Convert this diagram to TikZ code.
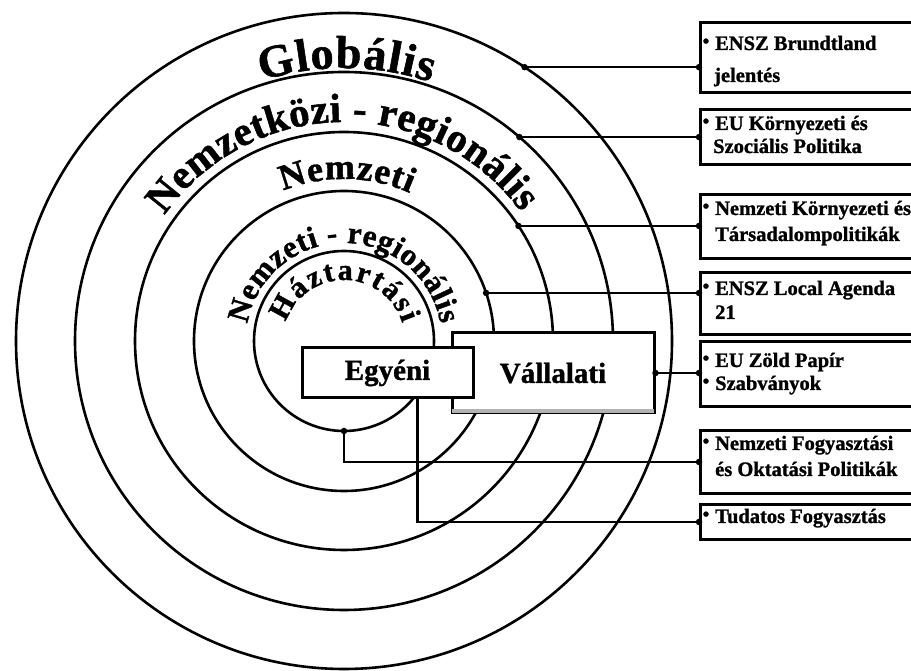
\documentclass[tikz,border=0pt]{standalone}
\usepackage{fontspec}
\setmainfont{Liberation Serif}[BoldFeatures={FakeBold=1.2}]
\usetikzlibrary{decorations.text,calc}
\newcommand\fsz[1]{\fontsize{#1}{#1}\selectfont\bfseries}
\begin{document}
\begin{tikzpicture}[x=1pt,y=1pt,
  ring/.style={line width=2.6pt},
  conn/.style={line width=2.5pt},
  rbox/.style={draw, line width=3pt, fill=white, minimum width=250pt, anchor=north west, inner sep=0pt},
  btxt/.style={anchor=base west, inner sep=0pt, font=\fsz{20.5}},
  bul/.style={inner sep=0pt, font=\fsz{19}},
  dot/.style={circle, fill=black, inner sep=0pt, minimum size=6.5pt},
  ctr/.style={draw, line width=3pt, fill=white, inner sep=0pt, font=\fsz{29}}
]
\clip (0,0) rectangle (911,671);
\fill[white] (0,0) rectangle (911,671);
\coordinate (c) at (344,330);
% rings
\foreach \r in {328,269,209,150,90} \draw[ring] (c) circle[radius=\r pt];

% ring labels
\path[decorate, decoration={text along path, text={|\fsz{46}|Globális}, text align={fit to path}}]
  ($(c)+(107.5:273pt)$) arc[start angle=107.5, end angle=71.5, radius=273pt];
\path[decorate, decoration={text along path, text={|\fsz{41}|Nemzetközi - regionális}, text align={fit to path}}]
  ($(c)+(145:219pt)$) arc[start angle=145, end angle=36, radius=219pt];
\path[decorate, decoration={text along path, text={|\fsz{36}|Nemzeti}, text align={fit to path}}]
  ($(c)+(112:162pt)$) arc[start angle=112, end angle=66, radius=162pt];
\path[decorate, decoration={text along path, text={|\fsz{31}|Nemzeti - regionális}, text align={fit to path}}]
  ($(c)+(170:98pt)$) arc[start angle=170, end angle=10, radius=98pt];
\path[decorate, decoration={text along path, text={|\fsz{30}|Háztartási}, text align={fit to path}}]
  ($(c)+(162:61pt)$) arc[start angle=162, end angle=17, radius=61pt];

% central boxes
\node[ctr, minimum width=202pt, minimum height=80pt] (v) at (553,298) {\raisebox{-3pt}{Vállalati}};
\draw[gray!60, line width=4pt] ([xshift=1.5pt,yshift=3.5pt]v.south west) -- ([xshift=-1.5pt,yshift=3.5pt]v.south east);
\node[ctr, minimum width=171pt, minimum height=50pt] (eg) at (387.5,298) {\raisebox{-2pt}{Egyéni}};

% right boxes
\node[rbox, minimum height=70pt] (b1) at (699,650) {};
\node[rbox, minimum height=55pt] (b2) at (699,563) {};
\node[rbox, minimum height=64pt] (b3) at (699,478) {};
\node[rbox, minimum height=62pt] (b4) at (699,400) {};
\node[rbox, minimum height=65pt] (b5) at (699,331) {};
\node[rbox, minimum height=63pt] (b6) at (699,242) {};
\node[rbox, minimum height=35pt] (b7) at (699,168) {};

% box texts
\node[btxt] (t1a) at (715,621) {ENSZ Brundtland};
\node[btxt] (t1b) at (714,589) {jelentés};
\node[btxt] (t2a) at (715,541) {EU Környezeti és};
\node[btxt] (t2b) at (713,518) {Szociális Politika};
\node[btxt] (t3a) at (715,456) {Nemzeti Környezeti és};
\node[btxt] (t3b) at (715,430) {Társadalompolitikák};
\node[btxt] (t4a) at (715,376) {ENSZ Local Agenda};
\node[btxt] (t4b) at (715,352) {21};
\node[btxt] (t5a) at (715,304) {EU Zöld Papír};
\node[btxt] (t5b) at (715,281) {Szabványok};
\node[btxt] (t6a) at (715,221) {Nemzeti Fogyasztási};
\node[btxt] (t6b) at (715,195) {és Oktatási Politikák};
\node[btxt] (t7a) at (715,148) {Tudatos Fogyasztás};

% bullets
\foreach \n/\y in {b1/621,b2/541,b3/456,b4/376,b5/304,b5b/281,b6/221,b7/148}
  \node[bul] (u\n) at (706,\y+7) {•};

% connection points
\coordinate (d1) at ($(c)+(56.6:328pt)$);
\coordinate (d2) at ($(c)+(49.3:269pt)$);
\coordinate (d3) at ($(c)+(33.4:209pt)$);
\coordinate (d4) at ($(c)+(18.66:150pt)$);
\coordinate (d6) at ($(c)+(-90:90pt)$);
\coordinate (e7) at ($(eg.south west)+(117,0)$);

% connectors
\draw[conn] (d1) -- (d1 -| b1.west);
\draw[conn] (d2) -- (d2 -| b2.west);
\draw[conn] (d3) -- (d3 -| b3.west);
\draw[conn] (d4) -- (d4 -| b4.west);
\draw[conn] (v.east) -- (v.east -| b5.west);
\draw[conn] (d6) |- (b6.west);
\draw[conn] (e7) |- (b7.west);

% dots
\foreach \p/\b in {d1/b1,d2/b2,d3/b3,d4/b4}{
  \node[dot] at (\p) {};
  \node[dot] at (\p -| \b.west) {};
}
\node[dot] at (v.east) {};
\node[dot] at (v.east -| b5.west) {};
\node[dot] at (d6) {};
\node[dot] at (b6.west) {};
\node[dot] at (b7.west) {};
\end{tikzpicture}
\end{document}
